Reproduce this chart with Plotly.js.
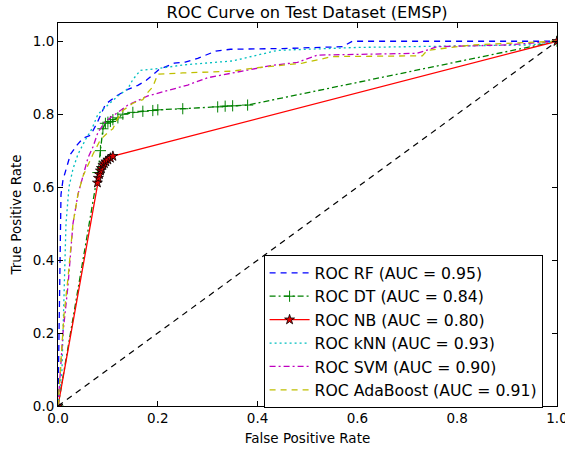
<!DOCTYPE html>
<html><head><meta charset="utf-8">
<script src="https://cdn.plot.ly/plotly-3.0.1.min.js"></script>
<style>html,body{margin:0;padding:0;background:#fff}#chart{width:565px;height:450px}</style>
</head><body><div id="chart"></div>
<script>
// Data
const names = ["ROC RF (AUC = 0.95)", "ROC DT (AUC = 0.84)", "ROC NB (AUC = 0.80)", "ROC kNN (AUC = 0.93)", "ROC SVM (AUC = 0.90)", "ROC AdaBoost (AUC = 0.91)"];

const rfFpr = [0, 0.002, 0.004, 0.006, 0.01, 0.018, 0.025, 0.038, 0.05, 0.065, 0.078, 0.095, 0.117, 0.14, 0.16, 0.177, 0.203, 0.233, 0.255, 0.28, 0.316, 0.346, 0.45, 0.57, 0.59, 1.0];
const rfTpr = [0, 0.2, 0.45, 0.58, 0.62, 0.66, 0.69, 0.715, 0.734, 0.742, 0.775, 0.827, 0.85, 0.868, 0.879, 0.893, 0.923, 0.94, 0.943, 0.953, 0.973, 0.978, 0.98, 0.985, 1.0, 1.0];

const dtFpr = [0, 0.08, 0.085, 0.09, 0.095, 0.1, 0.105, 0.11, 0.12, 0.13, 0.15, 0.17, 0.19, 0.2, 0.25, 0.32, 0.335, 0.35, 0.38, 1.0];
const dtTpr = [0, 0.64, 0.7, 0.76, 0.775, 0.778, 0.78, 0.785, 0.79, 0.8, 0.805, 0.808, 0.81, 0.812, 0.815, 0.82, 0.822, 0.823, 0.825, 1.0];

const nbFpr = [0, 0.079, 0.081, 0.083, 0.085, 0.087, 0.09, 0.093, 0.096, 0.1, 0.105, 0.11, 1.0];
const nbTpr = [0, 0.612, 0.625, 0.635, 0.645, 0.652, 0.66, 0.665, 0.67, 0.675, 0.68, 0.685, 1.0];

const knnFpr = [0, 0.008, 0.012, 0.016, 0.022, 0.03, 0.04, 0.055, 0.068, 0.08, 0.1, 0.12, 0.14, 0.15, 0.165, 0.2, 0.25, 0.3, 0.35, 0.44, 0.6, 0.8, 0.95, 1.0];
const knnTpr = [0, 0.1, 0.3, 0.5, 0.6, 0.65, 0.69, 0.73, 0.76, 0.8, 0.825, 0.85, 0.87, 0.895, 0.92, 0.925, 0.935, 0.94, 0.946, 0.975, 0.983, 0.987, 0.99, 1.0];

const svmFpr = [0, 0.005, 0.01, 0.02, 0.03, 0.04, 0.05, 0.06, 0.07, 0.08, 0.095, 0.115, 0.14, 0.18, 0.22, 0.26, 0.3, 0.36, 0.43, 0.48, 0.52, 0.72, 0.76, 0.9, 1.0];
const svmTpr = [0, 0.1, 0.2, 0.33, 0.5, 0.58, 0.63, 0.68, 0.71, 0.75, 0.78, 0.8, 0.825, 0.85, 0.865, 0.88, 0.9, 0.915, 0.934, 0.942, 0.962, 0.967, 0.985, 0.99, 1.0];

const adaFpr = [0, 0.005, 0.012, 0.02, 0.03, 0.04, 0.05, 0.06, 0.07, 0.085, 0.1, 0.11, 0.12, 0.13, 0.15, 0.17, 0.18, 0.19, 0.2, 0.25, 0.35, 0.39, 0.49, 0.55, 0.73, 0.74, 0.83, 1.0];
const adaTpr = [0, 0.1, 0.25, 0.35, 0.5, 0.58, 0.63, 0.66, 0.69, 0.73, 0.75, 0.76, 0.79, 0.81, 0.83, 0.84, 0.86, 0.875, 0.91, 0.913, 0.918, 0.926, 0.94, 0.958, 0.96, 0.975, 0.99, 1.0];

const diagX = [0, 1];
const diagY = [0, 1];

const xTicks = [0, 0.2, 0.4, 0.6, 0.8, 1.0];
const xTickText = ["0.0", "0.2", "0.4", "0.6", "0.8", "1.0"];
const yTicks = [0, 0.2, 0.4, 0.6, 0.8, 1.0];
const yTickText = ["0.0", "0.2", "0.4", "0.6", "0.8", "1.0"];

const W = 1.3;
const traces = [
  {x: rfFpr, y: rfTpr, name: names[0], mode: "lines", line: {color: "#0000ff", width: W, dash: "6px,5px"}},
  {x: dtFpr, y: dtTpr, name: names[1], mode: "lines+markers", line: {color: "#008000", width: W, dash: "6px,3px,2px,3px"},
   marker: {symbol: "cross-thin-open", size: 8, color: "#008000", line: {color: "#008000", width: 1}}},
  {x: nbFpr, y: nbTpr, name: names[2], mode: "lines+markers", line: {color: "#ff0000", width: W},
   marker: {symbol: "star", size: 7.5, color: "#dd0000", line: {color: "#000000", width: 0.8}}},
  {x: knnFpr, y: knnTpr, name: names[3], mode: "lines", line: {color: "#00bfbf", width: W, dash: "2px,3px"}},
  {x: svmFpr, y: svmTpr, name: names[4], mode: "lines", line: {color: "#bf00bf", width: W, dash: "6px,3px,2px,3px"}},
  {x: adaFpr, y: adaTpr, name: names[5], mode: "lines", line: {color: "#bfbf00", width: W, dash: "6px,5px"}},
  {x: diagX, y: diagY, mode: "lines", showlegend: false, hoverinfo: "skip", line: {color: "#000000", width: 1.2, dash: "6px,5px"}}
];

const layout = {
  width: 565, height: 450,
  margin: {l: 58, r: 8, t: 23, b: 44},
  paper_bgcolor: "#ffffff", plot_bgcolor: "#ffffff",
  font: {family: "DejaVu Sans", size: 13.5, color: "#000000"},
  title: {text: "ROC Curve on Test Dataset (EMSP)", font: {size: 16.2, family: "DejaVu Sans", color: "#000"}, x: 0.5436, xanchor: "center", y: 0.973, yanchor: "middle"},
  xaxis: {range: [0, 1], tickvals: xTicks, ticktext: xTickText, ticks: "inside", ticklen: 5, tickcolor: "#000",
          showline: true, linecolor: "#000", linewidth: 1, mirror: "ticks", showgrid: false, zeroline: false,
          ticklabeloverflow: "allow",
          title: {text: "False Positive Rate", font: {size: 13.5}, standoff: 8}, tickfont: {size: 13.5}},
  yaxis: {range: [0, 1.05], tickvals: yTicks, ticktext: yTickText, ticks: "inside", ticklen: 5, tickcolor: "#000",
          showline: true, linecolor: "#000", linewidth: 1, mirror: "ticks", showgrid: false, zeroline: false,
          ticklabeloverflow: "allow",
          title: {text: "True Positive Rate", font: {size: 13.5}, standoff: 8}, tickfont: {size: 13.5}},
  legend: {x: 0.412, y: 0.394, xanchor: "left", yanchor: "top", bgcolor: "#ffffff", bordercolor: "#000", borderwidth: 1,
           font: {size: 15.7, family: "DejaVu Sans"}, tracegroupgap: 0, itemwidth: 40}
};

Plotly.newPlot("chart", traces, layout, {displayModeBar: false, staticPlot: true});
</script>
</body></html>
